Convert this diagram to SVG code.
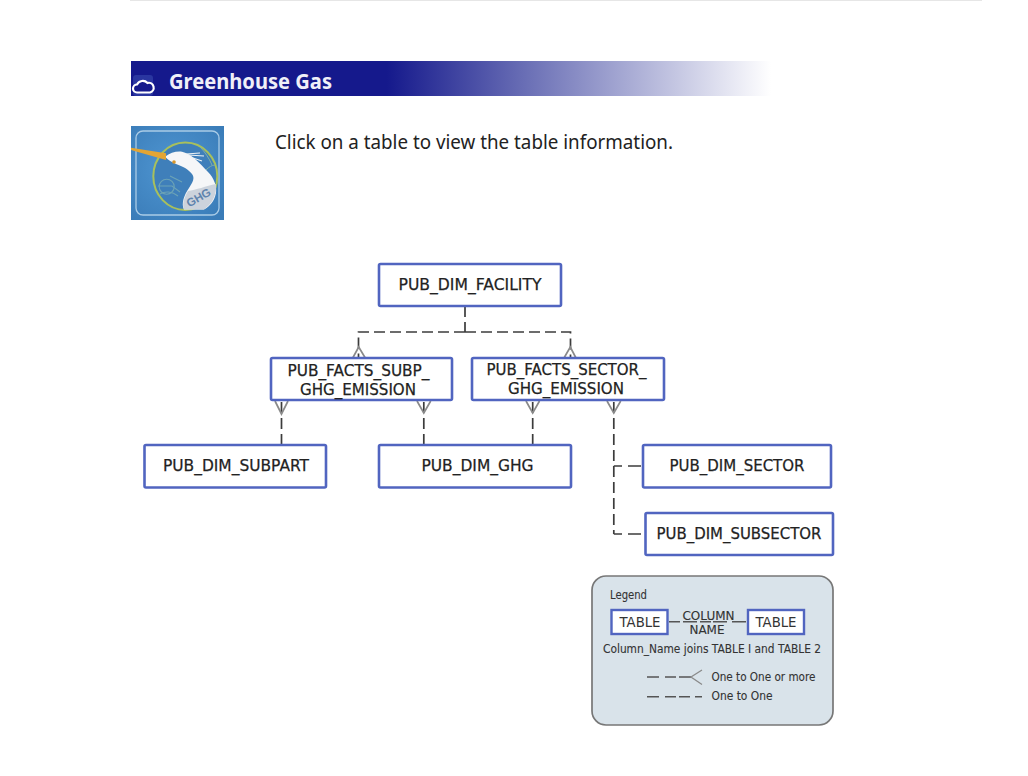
<svg xmlns="http://www.w3.org/2000/svg" width="1028" height="776" viewBox="0 0 1028 776">
<style>
.node{fill:#fff;stroke:#5165c0;stroke-width:2.600}
.t{font-family:"DejaVu Sans",sans-serif;font-size:16px;fill:#222;stroke:#222;stroke-width:.25;text-anchor:middle}
.tl{font-size:14px;fill:#333;stroke:none}
.l{font-family:"DejaVu Sans",sans-serif;font-size:11.500px;fill:#333;stroke:#333;stroke-width:.12}
.d{fill:none;stroke:#3c3c3c;stroke-width:1.700;stroke-dasharray:11 5}
.c{fill:none;stroke:#8a8a8a;stroke-width:1.700}
.s{fill:none;stroke:#555;stroke-width:1.400}
</style>
<defs>
<linearGradient id="bar" x1="0" x2="1" y1="0" y2="0">
<stop offset="0" stop-color="#15198c"/><stop offset="0.40" stop-color="#15198c"/><stop offset="0.62" stop-color="#6b70b6"/><stop offset="0.85" stop-color="#c4c6e2"/><stop offset="1" stop-color="#fff"/>
</linearGradient>
<radialGradient id="ic" cx="0.45" cy="0.45" r="0.7"><stop offset="0" stop-color="#4f96d2"/><stop offset="1" stop-color="#3a7cb8"/></radialGradient>
</defs>
<rect x="130" y="0" width="852" height="1" fill="#e6e6e6"/>
<g id="banner">
<rect x="131" y="61" width="640" height="35" fill="url(#bar)"/>
<rect x="133" y="75" width="20" height="21" rx="3" fill="#2a36a0"/>
<path d="M137 92.500a4 4 0 0 1 0-8a6.500 6.500 0 0 1 10.500-1.500a4.800 4.800 0 0 1 2.500 9.500z" fill="#15198c" stroke="#fff" stroke-width="2.200"/>
<text x="169" y="88.500" font-family="'Noto Sans','Open Sans',sans-serif" font-weight="700" font-size="20.500" fill="#f0f0f8" textLength="163" lengthAdjust="spacingAndGlyphs">Greenhouse Gas</text>
</g>
<g id="ghg-icon">
<rect x="131" y="126" width="93" height="94" fill="url(#ic)"/>
<rect x="136" y="131" width="83" height="84" rx="7" fill="none" stroke="#a9cbe6" stroke-width="1.300"/>
<ellipse cx="185.300" cy="176.300" rx="32" ry="33.700" fill="#3f7fba" stroke="#a8c05c" stroke-width="2"/>
<path d="M158 186h14l8 6M160 194c5-3 12-3 18 2M170 176l12 6" fill="none" stroke="#6ca3b6" stroke-width="1.100"/>
<circle cx="166.700" cy="186.700" r="7.500" fill="none" stroke="#6ca3b6" stroke-width="1.100"/>
<path d="M200 147c5 5 9 11 12 18M206 170c3-3 6-5 9-5" fill="none" stroke="#7fb0a8" stroke-width="1"/>
<path d="M165 156.700C170 153 176 151 182 151.700C190 153 200 163 208 172C214 178 217 186 216 193C214 202 210 206 204 209.500L184 209.500C181 204 184 195 189 188C193 182 195 178 192 174C188 169 183 166.500 176 164C172 162 168 160 165 156.700z" fill="#f5f6f8"/>
<path d="M184 209.500C182 204 184 198 188 191C196 190 206 186 216 184C217 195 212 204 204 209.500z" fill="#ccd3dc"/>
<path d="M186 154L200 153M188 155L204 156M190 157L202 161" fill="none" stroke="#eef2f4" stroke-width="1.100"/>
<path d="M131 147.700L166 153.300L166 160L131 150z" fill="#e2a534"/>
<circle cx="174" cy="162" r="1.800" fill="#d8962a"/>
<text x="200.500" y="201" font-family="'Liberation Sans',sans-serif" font-weight="700" font-size="11.500" fill="#5f83ad" text-anchor="middle" transform="rotate(-30 200.500 201)">GHG</text>
</g>
<text id="intro" x="275" y="148.500" font-family="'Noto Sans','Open Sans',sans-serif" font-size="19.500" fill="#222" textLength="398" lengthAdjust="spacingAndGlyphs">Click on a table to view the table information.</text>
<g id="connectors">
<path class="d" d="M465 306V332M465 332H358.500V358M465 332H570.500V358"/>
<path class="c" d="M352.700 358L358.700 347L365.300 358M564 358L570.300 347L576 358"/>
<path class="d" d="M281.500 402V445"/>
<path class="c" d="M275 401L281.500 414L288 401"/>
<path class="d" d="M423.800 402V445"/>
<path class="c" d="M417 401L423.800 413L430.700 401"/>
<path class="d" d="M532.700 402V445"/>
<path class="c" d="M526 401L532.700 413L539.500 401"/>
<path class="d" d="M613.800 402V534"/>
<path class="c" d="M607 401L613.800 413L620.700 401"/>
<path class="s" style="stroke:#3c3c3c;stroke-width:1.700" d="M613.800 466H622M628 466H641M613.800 534H622M628 534H641"/>
</g>
<g id="pub-dim-facility"><rect class="node" x="379" y="264" width="182" height="42" rx="1.500"/><text class="t" x="470" y="290" textLength="143" lengthAdjust="spacingAndGlyphs">PUB_DIM_FACILITY</text></g>
<g id="pub-facts-subp"><rect class="node" x="271" y="358" width="181" height="42" rx="1.500"/><text class="t" x="358.500" y="376" textLength="142" lengthAdjust="spacingAndGlyphs">PUB_FACTS_SUBP_</text><text class="t" x="358" y="395" textLength="116" lengthAdjust="spacingAndGlyphs">GHG_EMISSION</text></g>
<g id="pub-facts-sector"><rect class="node" x="472" y="358" width="192" height="42" rx="1.500"/><text class="t" x="566.500" y="375" textLength="160" lengthAdjust="spacingAndGlyphs">PUB_FACTS_SECTOR_</text><text class="t" x="566" y="394" textLength="116" lengthAdjust="spacingAndGlyphs">GHG_EMISSION</text></g>
<g id="pub-dim-subpart"><rect class="node" x="144.500" y="445" width="181.500" height="42.500" rx="1.500"/><text class="t" x="236" y="471" textLength="146" lengthAdjust="spacingAndGlyphs">PUB_DIM_SUBPART</text></g>
<g id="pub-dim-ghg"><rect class="node" x="379" y="445" width="192" height="42.500" rx="1.500"/><text class="t" x="477.500" y="471" textLength="112" lengthAdjust="spacingAndGlyphs">PUB_DIM_GHG</text></g>
<g id="pub-dim-sector"><rect class="node" x="643" y="445" width="188" height="42.500" rx="1.500"/><text class="t" x="737" y="471" textLength="135" lengthAdjust="spacingAndGlyphs">PUB_DIM_SECTOR</text></g>
<g id="pub-dim-subsector"><rect class="node" x="645.500" y="513" width="187.500" height="42" rx="1.500"/><text class="t" x="739" y="539" textLength="165" lengthAdjust="spacingAndGlyphs">PUB_DIM_SUBSECTOR</text></g>
<g id="legend">
<rect x="592" y="576" width="241" height="149" rx="14" fill="#d9e3ea" stroke="#777" stroke-width="1.700"/>
<text class="l" x="610" y="599" textLength="37" lengthAdjust="spacingAndGlyphs">Legend</text>
<rect x="611.500" y="610" width="56" height="24" fill="#fff" stroke="#5165c0" stroke-width="2.400"/>
<text class="t tl" x="640" y="627" textLength="41" lengthAdjust="spacingAndGlyphs">TABLE</text>
<rect x="748" y="610" width="56" height="24" fill="#fff" stroke="#5165c0" stroke-width="2.400"/>
<text class="t tl" x="776" y="627" textLength="41" lengthAdjust="spacingAndGlyphs">TABLE</text>
<text class="l" x="708.500" y="620" text-anchor="middle" textLength="52" lengthAdjust="spacingAndGlyphs">COLUMN</text>
<path class="s" d="M669 621.700H680M683 621.700H697M700 621.700H711M713 621.700H727M732 621.700H746"/>
<text class="l" x="707" y="634" text-anchor="middle" textLength="35" lengthAdjust="spacingAndGlyphs">NAME</text>
<text class="l" x="603" y="653" textLength="218" lengthAdjust="spacingAndGlyphs">Column_Name joins TABLE I and TABLE 2</text>
<path class="s" d="M647 677H659M665 677H676M679 677H691"/>
<path class="c" style="stroke-width:1.300" d="M702 670L691 677L702 684.500"/>
<path class="s" d="M647 696.700H659M665 696.700H676M679 696.700H690M695 696.700H702"/>
<text class="l" x="711.500" y="681" textLength="104" lengthAdjust="spacingAndGlyphs">One to One or more</text>
<text class="l" x="711.500" y="700" textLength="61" lengthAdjust="spacingAndGlyphs">One to One</text>
</g>
</svg>
